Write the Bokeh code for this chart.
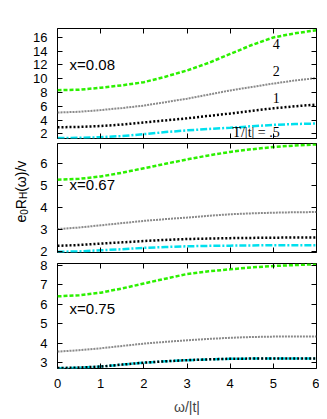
import math
from bokeh.plotting import figure
from bokeh.layouts import column, row
from bokeh.models import Range1d, FixedTicker, LinearAxis, Label
from bokeh.core.properties import value
from bokeh.embed import file_html
from bokeh.resources import INLINE

# ---------------- data ----------------
omega = [0, 0.5, 1, 1.5, 2, 2.5, 3, 3.5, 4, 4.5, 5, 5.5, 6]

# panel x=0.08
p1_T4 = [8.34, 8.4, 8.7, 9.05, 9.5, 10.3, 11.2, 12.3, 13.6, 14.9, 16.0, 16.6, 17.05]
p1_T2 = [5.1, 5.2, 5.45, 5.75, 6.1, 6.6, 7.1, 7.7, 8.3, 8.8, 9.3, 9.75, 10.1]
p1_T1 = [2.95, 3.0, 3.13, 3.35, 3.65, 3.95, 4.25, 4.6, 4.95, 5.35, 5.7, 6.0, 6.25]
p1_T05 = [1.38, 1.42, 1.5, 1.68, 1.95, 2.25, 2.5, 2.7, 2.88, 3.1, 3.3, 3.42, 3.5]

# panel x=0.67
p2_T4 = [5.26, 5.3, 5.41, 5.58, 5.78, 5.98, 6.18, 6.36, 6.52, 6.64, 6.74, 6.81, 6.86]
p2_T2 = [3.03, 3.1, 3.2, 3.3, 3.4, 3.48, 3.55, 3.63, 3.7, 3.74, 3.77, 3.79, 3.8]
p2_T1 = [2.27, 2.31, 2.37, 2.43, 2.49, 2.54, 2.58, 2.6, 2.62, 2.63, 2.64, 2.65, 2.65]
p2_T05 = [2.0, 2.02, 2.07, 2.12, 2.18, 2.22, 2.25, 2.27, 2.28, 2.29, 2.3, 2.3, 2.3]

# panel x=0.75
p3_T4 = [6.41, 6.47, 6.6, 6.82, 7.07, 7.32, 7.56, 7.7, 7.8, 7.9, 7.97, 8.02, 8.06]
p3_T2 = [3.57, 3.64, 3.74, 3.86, 3.98, 4.07, 4.15, 4.22, 4.28, 4.32, 4.34, 4.34, 4.34]
p3_T1 = [2.72, 2.75, 2.8, 2.9, 3.0, 3.07, 3.13, 3.17, 3.2, 3.21, 3.21, 3.21, 3.21]
p3_T05 = [2.71, 2.74, 2.8, 2.9, 3.0, 3.07, 3.13, 3.17, 3.2, 3.21, 3.22, 3.22, 3.22]

x_ticks = [0, 1, 2, 3, 4, 5, 6]
p1_yticks = [2, 4, 6, 8, 10, 12, 14, 16]
p2_yticks = [2, 3, 4, 5, 6]
p3_yticks = [3, 4, 5, 6, 7, 8]

panel_names = ["x=0.08", "x=0.67", "x=0.75"]
curve_labels = ["4", "2", "1", "T/|t| = .5"]
y_title_parts = ["e", "0", "R", "H", "(ω)/v"]
y_title_sub = [False, True, False, True, False]

SANS = "Liberation Sans"
SERIF = "Liberation Serif"

GREEN = "#2cf000"
GREY = "#8a8a8a"
BLACK = "#000000"
CYAN = "#00e0ee"

LABEL_W = 30
MAIN_W = 289
H1, H2, H3 = 140, 118, 159
TOTAL_H = H1 + H2 + H3

xr = Range1d(0, 6)


def style_axis(ax, ticks, show_labels):
    ax.ticker = FixedTicker(ticks=ticks)
    ax.major_tick_in = 5
    ax.major_tick_out = 0
    ax.minor_tick_line_color = None
    ax.axis_line_color = None
    ax.major_tick_line_color = "black"
    ax.major_label_text_font = SANS
    ax.major_label_text_color = "black"
    ax.major_label_text_font_size = "13px"
    if not show_labels:
        ax.major_label_overrides = {t: "" for t in ticks}
        ax.major_label_standoff = 0


def make_fig(yr, yticks, height, bt, bb, show_x):
    p = figure(width=MAIN_W, height=height, x_range=xr, y_range=Range1d(*yr),
               output_backend="svg", toolbar_location=None,
               min_border_left=26, min_border_right=3,
               min_border_top=bt, min_border_bottom=bb)
    p.xgrid.visible = False
    p.ygrid.visible = False
    p.outline_line_color = "black"
    p.outline_line_width = 1
    p.background_fill_color = "white"
    style_axis(p.xaxis[0], x_ticks, show_x)
    style_axis(p.yaxis[0], yticks, True)
    p.yaxis[0].major_label_standoff = 10
    if show_x:
        p.xaxis[0].major_label_standoff = 10
        p.xaxis[0].axis_label = "ω/|t|"
        p.xaxis[0].axis_label_text_font = SANS
        p.xaxis[0].axis_label_text_font_style = "normal"
        p.xaxis[0].axis_label_text_font_size = "14px"
        p.xaxis[0].axis_label_standoff = 8
    ra = LinearAxis()
    style_axis(ra, yticks, False)
    p.add_layout(ra, "right")
    ta = LinearAxis()
    style_axis(ta, x_ticks, False)
    p.add_layout(ta, "above")
    return p


def draw(p, t4, t2, t1, t05):
    p.line(omega, t05, color=CYAN, line_width=2.5, line_dash="7 2 2 2")
    p.line(omega, t1, color=BLACK, line_width=2.5, line_dash="2 2")
    p.line(omega, t2, color=GREY, line_width=2, line_dash="2 1")
    p.line(omega, t4, color=GREEN, line_width=2.5, line_dash="4 2")


def panel_label(p, text, x, y):
    p.add_layout(Label(x=x, y=y, text=text, text_font=SANS, text_font_size="15px",
                       text_color="black", text_align="left", text_baseline="middle"))


p1 = make_fig((1.32, 17.3), p1_yticks, H1, 28, 2, False)
draw(p1, p1_T4, p1_T2, p1_T1, p1_T05)
panel_label(p1, panel_names[0], 0.28, 12.1)
for txt, xx, yy in [(curve_labels[0], 5.07, 15.1), (curve_labels[1], 5.07, 11.1),
                    (curve_labels[2], 5.07, 7.2), (curve_labels[3], 4.6, 2.25)]:
    p1.add_layout(Label(x=xx, y=yy, text=txt, text_font=SERIF, text_font_size="14px",
                        text_color="black", text_align="center", text_baseline="middle"))

p2 = make_fig((1.97, 6.9), p2_yticks, H2, 3, 6, False)
draw(p2, p2_T4, p2_T2, p2_T1, p2_T05)
panel_label(p2, panel_names[1], 0.28, 5.03)

p3 = make_fig((2.7, 8.1), p3_yticks, H3, 5, 48, True)
draw(p3, p3_T4, p3_T2, p3_T1, p3_T05)
panel_label(p3, panel_names[2], 0.28, 5.77)

# ---- rotated y-axis title e0RH(ω)/v in its own narrow strip ----
lab = figure(width=LABEL_W, height=TOTAL_H, x_range=Range1d(0, LABEL_W),
             y_range=Range1d(TOTAL_H, 0), output_backend="svg", toolbar_location=None,
             x_axis_type=None, y_axis_type=None, min_border=0)
lab.outline_line_color = None
lab.xgrid.visible = False
lab.ygrid.visible = False

em = {"e": 0.556, "0": 0.556, "R": 0.722, "H": 0.722,
      "(ω)/v": 0.333 + 0.69 + 0.333 + 0.278 + 0.5}
xs, ys, sizes = [], [], []
cur = 222
for part, sub in zip(y_title_parts, y_title_sub):
    fs = 10 if sub else 14
    xs.append(23 if sub else 20)
    ys.append(cur)
    sizes.append(f"{fs}px")
    cur -= em[part] * fs
lab.text(x=xs, y=ys, text=y_title_parts, angle=math.pi / 2,
         text_font=value(SANS), text_font_size=sizes, text_color="black",
         text_align="left", text_baseline="alphabetic")

layout = row(lab, column(p1, p2, p3, spacing=0), spacing=0)
open("out.html", "w").write(file_html(layout, INLINE))
